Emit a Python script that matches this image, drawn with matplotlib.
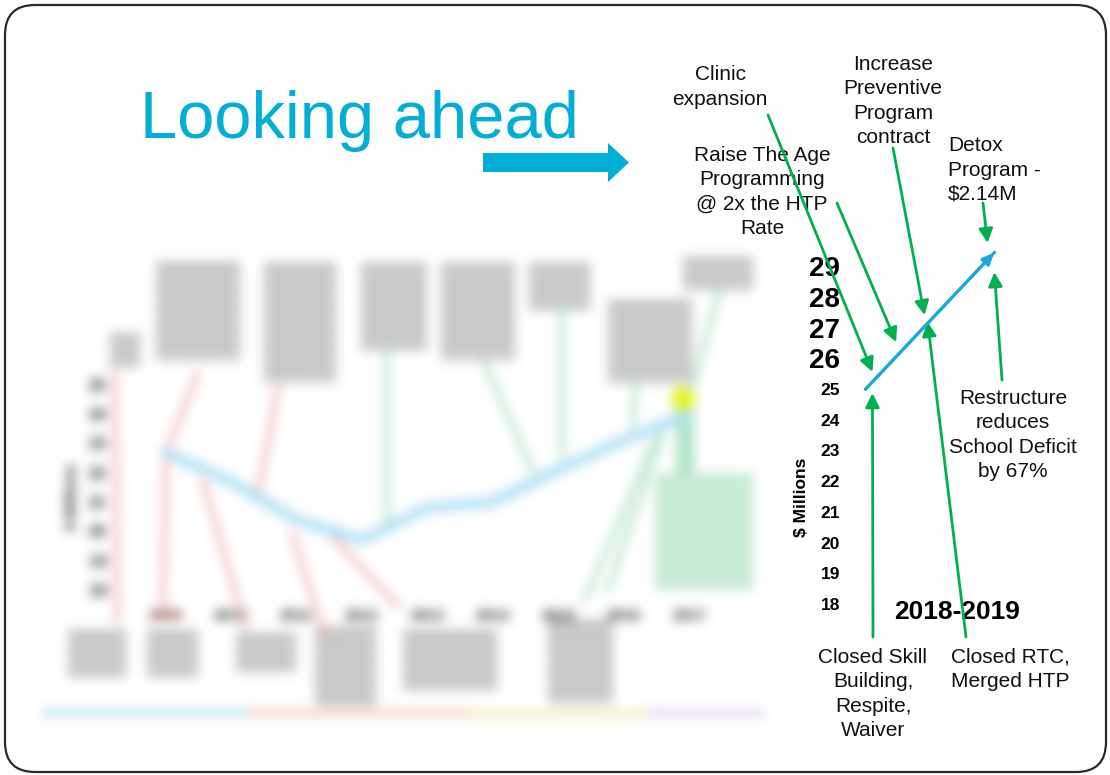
import numpy as np
import matplotlib
matplotlib.use("Agg")
import matplotlib.pyplot as plt
import matplotlib.transforms as mtransforms
from matplotlib.patches import FancyBboxPatch, Rectangle, Polygon, Circle

plt.rcParams['font.family'] = ['Liberation Sans', 'DejaVu Sans']

# ---------------- data ----------------
title = "Looking ahead"

# outlook chart (right)
period_label = "2018-2019"
outlook_x = [0.0, 1.0]
outlook_y = [25.0, 29.45]          # $ millions
ytick_values = list(range(18, 30))
ytick_big = [26, 27, 28, 29]
y_label = "$ Millions"

callout_labels = [
    "Clinic\nexpansion",
    "Raise The Age\nProgramming\n@ 2x the HTP\nRate",
    "Increase\nPreventive\nProgram\ncontract",
    "Detox\nProgram -\n$2.14M",
    "Restructure\nreduces\nSchool Deficit\nby 67%",
    "Closed Skill\nBuilding,\nRespite,\nWaiver",
    "Closed RTC,\nMerged HTP",
]
callout_target_x = [0.053, 0.237, 0.458, 0.947, 1.0, 0.053, 0.481]
callout_target_y = [25.56, 26.53, 27.41, 29.76, 28.81, 24.87, 27.19]

# historical chart (left, blurred in the slide)
hist_years = [2009, 2010, 2011, 2012, 2013, 2014, 2015, 2016, 2017]
hist_values = [22.7, 21.7, 20.4, 19.7, 20.8, 21.0, 22.1, 23.1, 24.0]
hist_yticks = [18, 19, 20, 21, 22, 23, 24, 25]

# ---------------- layout (pixel positions on the slide) ----------------
callout_text_pos = [(720, 87), (762, 192), (893, 101), (948, 170),
                    (1013, 435), (873, 694), (1010, 669)]
callout_text_ha = ['center', 'center', 'center', 'left', 'center', 'center', 'center']
callout_arrow_start = [(768, 115), (837, 203), (893, 148), (983, 203),
                       (1002, 380), (873, 637), (966, 637)]
big_tick_shift = {26: 6, 27: 5, 28: 3, 29: 1}   # px downward nudge of the large labels

top_blocks = [(110, 333, 140, 367), (156, 262, 240, 360), (264, 263, 336, 383),
              (361, 263, 427, 350), (441, 263, 515, 360), (529, 263, 590, 310),
              (608, 300, 692, 383), (683, 257, 753, 290)]
bottom_blocks = [(68, 630, 126, 677), (147, 630, 198, 677), (236, 633, 296, 673),
                 (315, 627, 376, 707), (403, 630, 497, 690), (548, 620, 613, 703)]
pink_lines = [[(115, 373), (117, 620)], [(198, 373), (166, 453), (163, 610)],
              [(278, 387), (257, 500)], [(203, 480), (245, 627)],
              [(292, 533), (324, 633)], [(329, 533), (399, 607)]]
green_lines = [[(387, 350), (387, 523)], [(483, 360), (534, 473)],
               [(562, 307), (562, 457)], [(636, 383), (632, 427)],
               [(720, 290), (688, 400)], [(655, 440), (585, 600)],
               [(664, 427), (608, 590)]]

CYAN = '#00AED6'
BLUE = '#19A9DA'
GREEN = '#00B050'

W, H = 1110, 775
fig = plt.figure(figsize=(W / 100, H / 100), dpi=100)
fig.patch.set_facecolor('white')

# ---- decoration axes in slide pixels ----
ax_d = fig.add_axes([0, 0, 1, 1])
ax_d.set_xlim(0, W)
ax_d.set_ylim(H, 0)
ax_d.set_axis_off()
PX = ax_d.transData

ax_d.add_patch(FancyBboxPatch((5, 5), 1101, 767,
                              boxstyle='round,pad=0,rounding_size=30',
                              fc='none', ec='#2a2a2a', lw=1.6))
ax_d.text(140, 138, title, fontsize=48.2, color=CYAN, ha='left', va='baseline')
ax_d.add_patch(Polygon([(483, 153), (608, 153), (608, 143), (629, 162.5),
                        (608, 182), (608, 172), (483, 172)],
                       closed=True, fc=CYAN, ec='none'))


# ---- blurred historical chart ----
def gaussian_blur(im, dpi, sigma=5.5):
    r = int(3 * sigma)
    k = np.exp(-0.5 * (np.arange(-r, r + 1) / sigma) ** 2)
    k /= k.sum()
    a = im[..., 3:4]
    pm = np.concatenate([im[..., :3] * a, a], axis=-1)
    pm = np.pad(pm, ((r, r), (r, r), (0, 0)))
    tmp = np.zeros_like(pm)
    for j, w in enumerate(k):
        tmp += w * np.roll(pm, j - r, axis=0)
    out = np.zeros_like(pm)
    for j, w in enumerate(k):
        out += w * np.roll(tmp, j - r, axis=1)
    a2 = out[..., 3:4]
    rgb = out[..., :3] / np.maximum(a2, 1e-6)
    res = np.concatenate([np.clip(rgb, 0, 1), np.clip(a2, 0, 1)], axis=-1)
    return res, -r, -r


# left axes: x 112..720 px, y 367..603 px
ax_l = fig.add_axes([112 / W, 1 - 603 / H, 608 / W, 236 / H])
ax_l.set_facecolor('none')
ax_l.set_xlim(2008.19, 2017.47)
ax_l.set_ylim(17.556, 25.6)
for s in ax_l.spines.values():
    s.set_visible(False)
ax_l.plot(hist_years, hist_values, color='#ade0f5', lw=7, solid_capstyle='round', zorder=3)
ax_l.set_yticks(hist_yticks)
ax_l.set_yticklabels([str(v) for v in hist_yticks], fontsize=11.5, fontweight='bold', color='#202020')
ax_l.set_xticks(hist_years)
ax_l.set_xticklabels([str(y) for y in hist_years], fontsize=11, fontweight='bold', color='#202020')
ax_l.get_xticklabels()[0].set_color('#6a1818')
ax_l.tick_params(length=0, pad=4)
ax_l.set_ylabel('$ Millions', fontsize=10.5, fontweight='bold', color='#202020')
ax_l.yaxis.set_label_coords(-0.055, 0.45)

for (x0, y0, x1, y1) in top_blocks + bottom_blocks:
    yy = y0
    while yy < y1:
        ax_l.add_patch(Rectangle((x0, yy), x1 - x0, min(11, y1 - yy), transform=PX,
                                 fc='#c0c0c0', ec='none', clip_on=False))
        yy += 13
for pts in pink_lines:
    xs, ys = zip(*pts)
    ax_l.plot(xs, ys, transform=PX, color='#f4acac', lw=3, clip_on=False, zorder=2)
for pts in green_lines:
    xs, ys = zip(*pts)
    ax_l.plot(xs, ys, transform=PX, color='#a4e0be', lw=3, clip_on=False, zorder=2)
ax_l.add_patch(Rectangle((655, 473), 98, 117, transform=PX, fc='#c8ecd7', ec='none', clip_on=False))
ax_l.add_patch(Rectangle((676, 405), 18, 70, transform=PX, fc='#b0e4c8', ec='none', clip_on=False))
ax_l.add_patch(Circle((683, 399), 12, transform=PX, fc='#e3f52a', ec='none', clip_on=False, zorder=4))
for (x0, x1, c) in [(45, 250, '#aadcf4'), (250, 470, '#f6c8b6'), (470, 650, '#eeeaa6'), (650, 762, '#dccdee')]:
    ax_l.plot([x0, x1], [713, 713], transform=PX, color=c, lw=4, clip_on=False)
ax_l.set_agg_filter(gaussian_blur)

# ---- outlook chart ----
ax_r = fig.add_axes([845 / W, 1 - 619.35 / H, 230 / W, 383.75 / H])
ax_r.set_facecolor('none')
ax_r.set_xlim(-0.16, 1.626)
ax_r.set_ylim(17.5, 30)
for s in ax_r.spines.values():
    s.set_visible(False)
ax_r.set_xticks([])
ax_r.set_yticks(ytick_values)
ax_r.set_yticklabels([str(v) for v in ytick_values], fontweight='bold', fontsize=12.5, color='black')
for lab, v in zip(ax_r.get_yticklabels(), ytick_values):
    if v in ytick_big:
        lab.set_fontsize(20)
        lab.set_transform(lab.get_transform() +
                          mtransforms.Affine2D().translate(0, -big_tick_shift[v]))
ax_r.tick_params(length=0, pad=3.5)
ax_d.text(801, 497, y_label, rotation=90, ha='center', va='center',
          fontsize=12.5, fontweight='bold', color='black')
ax_r.text(np.mean(outlook_x) + 0.21, 17.75, period_label, ha='center', va='center',
          fontsize=19, fontweight='bold', color='black', zorder=1)

ax_r.plot(outlook_x, outlook_y, color=BLUE, lw=2.2, zorder=3)
ax_r.annotate('', xy=(outlook_x[-1], outlook_y[-1]), xytext=(outlook_x[0], outlook_y[0]),
              arrowprops=dict(arrowstyle='-|>,head_length=0.5,head_width=0.22', color=BLUE,
                              lw=2.2, shrinkA=0, shrinkB=0, mutation_scale=14),
              annotation_clip=False, zorder=3)

for lab, (tx, ty), ha, start, gx, gy in zip(callout_labels, callout_text_pos, callout_text_ha,
                                            callout_arrow_start, callout_target_x, callout_target_y):
    ax_r.text(tx, ty, lab, transform=PX, ha=ha, va='center', multialignment=ha,
              fontsize=15, linespacing=1.35, color='#111111', zorder=1, clip_on=False)
    ax_r.annotate('', xy=(gx, gy), xytext=start, textcoords=PX,
                  arrowprops=dict(arrowstyle='-|>,head_length=0.6,head_width=0.3', color=GREEN,
                                  lw=2, shrinkA=0, shrinkB=0, mutation_scale=14),
                  annotation_clip=False, zorder=2)

fig.savefig('out.png', dpi=100, facecolor='white')
